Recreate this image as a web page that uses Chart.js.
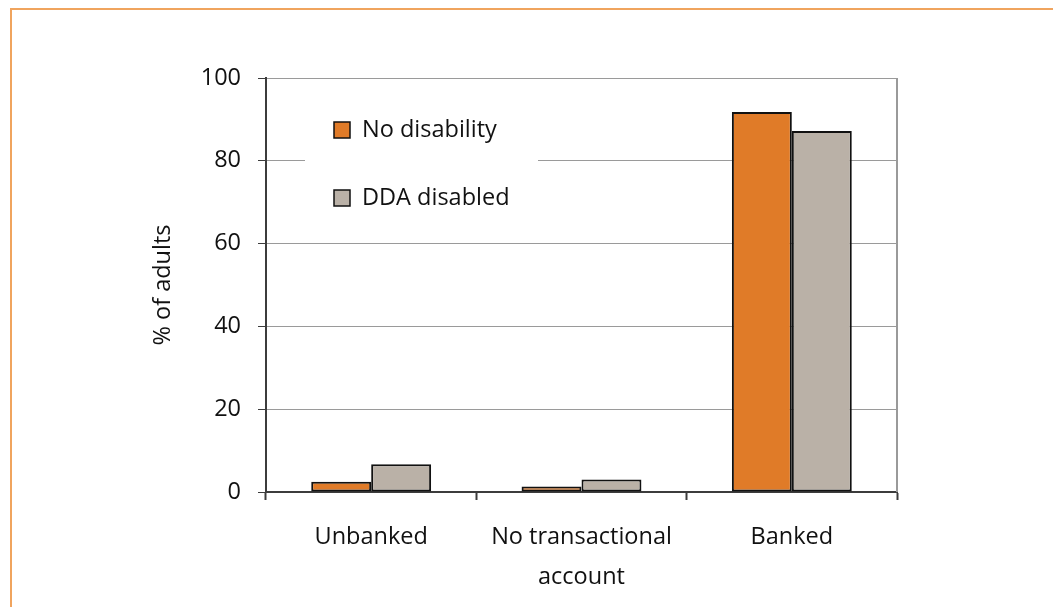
<!DOCTYPE html>
<html>
<head>
<meta charset="utf-8">
<script src="https://cdn.jsdelivr.net/npm/chart.js@4"></script>
<style>
  html, body { margin: 0; padding: 0; background: #fff; }
  body { width: 1053px; height: 607px; position: relative; overflow: hidden; }
  .frame { position: absolute; left: 10px; top: 8px; width: 1200px; height: 800px; border: 2px solid #f0a45e; }
  #chart { position: absolute; left: 0; top: 0; }
</style>
</head>
<body>
<div class="frame"></div>
<canvas id="chart" width="1053" height="607"></canvas>
<script>
const categories = ['Unbanked', ['No transactional', 'account'], 'Banked'];
const noDisability = [2.5, 1.3, 91.8];
const ddaDisabled = [6.7, 3.0, 87.2];
const yTicks = [0, 20, 40, 60, 80, 100];

const COLORS = {
  orange: '#e07b28',
  grey: '#bab1a7',
  grid: '#9a9a9a',
  axis: '#3c3c3c',
  text: '#111',
};
const FONT = "'Open Sans', 'DejaVu Sans', sans-serif";
const FONT_SIZE = 23.5;

// legend sits inside the plot on a white box, like the original
const insideLegend = {
  id: 'insideLegend',
  afterDatasetsDraw(chart) {
    const { ctx, chartArea } = chart;
    const x0 = chartArea.left + 39;
    const y0 = chartArea.top + 22;
    ctx.save();
    ctx.fillStyle = '#fff';
    ctx.fillRect(x0, y0, 233, 126);
    // right border of plot area
    ctx.strokeStyle = COLORS.grid;
    ctx.lineWidth = 2;
    ctx.beginPath();
    ctx.moveTo(chartArea.right, chartArea.top);
    ctx.lineTo(chartArea.right, chartArea.bottom);
    ctx.stroke();

    chart.data.datasets.forEach((ds, i) => {
      const cy = chartArea.top + 52 + i * 68;
      ctx.fillStyle = ds.backgroundColor;
      ctx.fillRect(x0 + 29, cy - 8, 16, 16);
      ctx.strokeStyle = '#111';
      ctx.lineWidth = 1.5;
      ctx.strokeRect(x0 + 29, cy - 8, 16, 16);
      ctx.fillStyle = COLORS.text;
      ctx.font = `${FONT_SIZE}px ${FONT}`;
      ctx.textBaseline = 'middle';
      ctx.textAlign = 'left';
      ctx.fillText(ds.label, x0 + 57, cy);
    });
    ctx.restore();
  },
};

new Chart(document.getElementById('chart'), {
  type: 'bar',
  data: {
    labels: categories,
    datasets: [
      { label: 'No disability', data: noDisability, backgroundColor: COLORS.orange, borderColor: '#111', borderWidth: 2, borderSkipped: false },
      { label: 'DDA disabled', data: ddaDisabled, backgroundColor: COLORS.grey, borderColor: '#111', borderWidth: 2, borderSkipped: false },
    ],
  },
  options: {
    responsive: false,
    animation: false,
    layout: { padding: { left: 0, top: 78, right: 156, bottom: 0 } },
    datasets: { bar: { categoryPercentage: 0.57, barPercentage: 1 } },
    scales: {
      x: {
        grid: { offset: true, drawOnChartArea: false, drawTicks: true, tickLength: 8, tickColor: COLORS.axis, tickWidth: 2 },
        border: { color: COLORS.axis, width: 2 },
        ticks: { color: COLORS.text, padding: 17, maxRotation: 0, font: { family: FONT, size: FONT_SIZE, lineHeight: 40 / FONT_SIZE } },
        afterFit: s => { s.height = 115; },
      },
      y: {
        min: 0,
        max: 100,
        afterBuildTicks: s => { s.ticks = yTicks.map(v => ({ value: v })); },
        grid: { color: COLORS.grid, lineWidth: 1, tickLength: 8, tickColor: COLORS.axis },
        border: { color: COLORS.axis, width: 2 },
        ticks: { color: COLORS.text, padding: 17, font: { family: FONT, size: FONT_SIZE } },
        title: { display: true, text: '% of adults', color: COLORS.text, padding: { top: 149 }, font: { family: FONT, size: FONT_SIZE } },
        afterFit: s => { s.width = 266; },
      },
    },
    plugins: { legend: { display: false }, tooltip: { enabled: false } },
  },
  plugins: [insideLegend],
});
</script>
</body>
</html>
